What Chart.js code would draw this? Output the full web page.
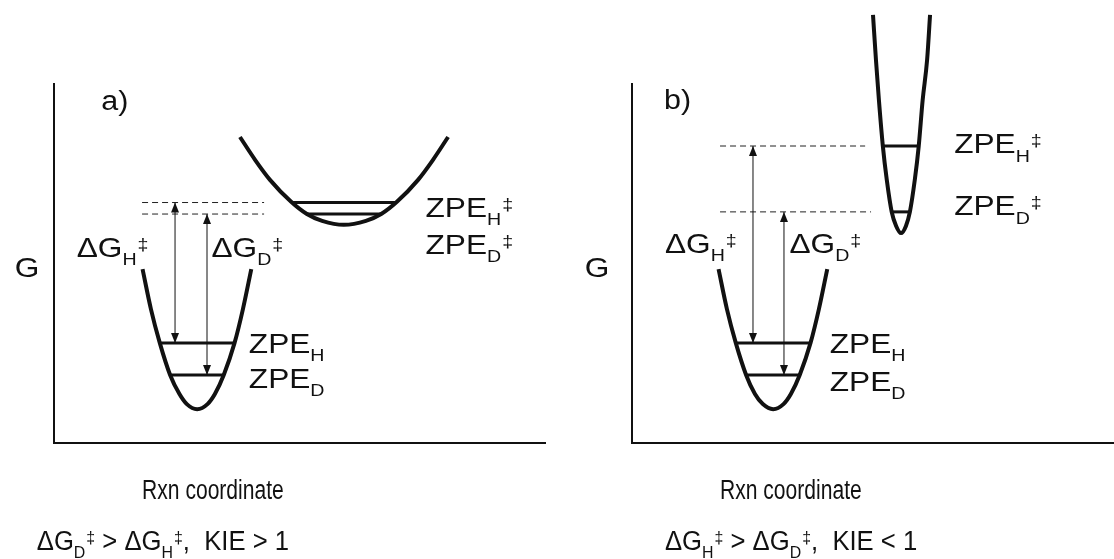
<!DOCTYPE html>
<html>
<head>
<meta charset="utf-8">
<script src="https://cdn.jsdelivr.net/npm/chart.js@4.4.1/dist/chart.umd.min.js"></script>
<style>
  html, body { margin: 0; padding: 0; background: #fff; }
  #wrap { display: flex; width: 1114px; height: 559px; }
  .painel { position: relative; width: 557px; height: 559px; }
</style>
</head>
<body>
<div id="wrap">
  <div class="painel"><canvas id="grafico_a"></canvas></div>
  <div class="painel"><canvas id="grafico_b"></canvas></div>
</div>
<script>
// --- Data (x = reaction coordinate, G = free energy, arbitrary units) ---

// Panel a) reactant well and a broad transition-state well
const pocoA_x = [18.0, 19.7, 21.5, 23.6, 25.5, 27.0, 29.1, 31.2, 32.7, 34.5, 36.7, 38.4, 40.1];
const pocoA_g = [48.3, 37.2, 27.8, 18.9, 13.6, 10.8, 9.4, 10.8, 13.6, 18.9, 27.8, 37.2, 48.3];
const tsA_x = [37.8, 40.9, 43.9, 48.2, 51.4, 54.5, 58.9, 63.4, 66.5, 69.7, 74.0, 77.0, 80.1];
const tsA_g = [85.0, 78.6, 73.1, 67.0, 63.6, 61.7, 60.6, 61.7, 63.6, 67.0, 73.1, 78.6, 85.0];

// zero-point levels [H, D]
const zpeA_g = [27.8, 18.9];
const zpeA_de = [21.5, 23.6];
const zpeA_ate = [36.7, 34.5];
const zpeTsA_g = [66.8, 63.6];
const zpeTsA_de = [48.2, 51.4];
const zpeTsA_ate = [69.7, 66.5];
const setasA_x = [24.6, 31.1];

// Panel b) same reactant well, narrow transition-state well
const pocoB_x = [17.6, 19.3, 21.1, 23.2, 25.0, 26.6, 28.7, 30.8, 32.3, 34.1, 36.3, 38.0, 39.7];
const pocoB_g = [48.3, 37.2, 27.8, 18.9, 13.6, 10.8, 9.4, 10.8, 13.6, 18.9, 27.8, 37.2, 48.3];
const tsB_x = [49.0, 49.6, 50.2, 51.0, 51.8, 52.8, 53.7, 54.7, 55.7, 56.5, 57.5, 58.3, 59.1, 60.0, 60.6];
const tsB_g = [118.9, 106.4, 95.3, 82.5, 73.1, 64.2, 60.3, 58.3, 60.3, 64.2, 73.1, 82.5, 95.3, 106.4, 118.9];

const zpeB_g = [27.8, 18.9];
const zpeB_de = [21.1, 23.2];
const zpeB_ate = [36.3, 34.1];
const zpeTsB_g = [82.5, 64.2];
const zpeTsB_de = [51.0, 52.8];
const zpeTsB_ate = [58.3, 56.5];
const setasB_x = [24.6, 30.9];

const ISOTOPOS = ['H', 'D'];

const FONTE = '"Liberation Sans", Arial, sans-serif';

// --- Helpers ---
function pontos(xs, gs) {
  return xs.map((x, i) => ({ x: x, y: gs[i] }));
}

function curva(xs, gs) {
  return { data: pontos(xs, gs), borderColor: '#111', borderWidth: 4, cubicInterpolationMode: 'monotone' };
}

function nivel(g, de, ate, largura) {
  return { data: [{ x: de, y: g }, { x: ate, y: g }], borderColor: '#111', borderWidth: largura };
}

function tracejado(g, de, ate) {
  return { data: [{ x: de, y: g }, { x: ate, y: g }], borderColor: '#222', borderWidth: 1, borderDash: [6, 4] };
}

function seta(x, gBase, gTopo) {
  return { data: [{ x: x, y: gBase }, { x: x, y: gTopo }], borderColor: '#111', borderWidth: 1, seta: true };
}

function montarDatasets(poco, ts, zpe, zpeTs, setasX, inicioTracejado, fimTracejado) {
  const ds = [curva(poco[0], poco[1]), curva(ts[0], ts[1])];
  ISOTOPOS.forEach((iso, i) => {
    ds.push(nivel(zpe[0][i], zpe[1][i], zpe[2][i], 3));
    ds.push(nivel(zpeTs[0][i], zpeTs[1][i], zpeTs[2][i], 3));
    ds.push(tracejado(zpeTs[0][i], inicioTracejado, fimTracejado[i]));
    ds.push(seta(setasX[i], zpe[0][i], zpeTs[0][i]));
  });
  return ds;
}

// text pieces: [texto, 'sub' | 'sup' | undefined]
const dG = iso => [['\u0394G'], [iso, 'sub'], ['\u2021', 'sup']];
const zpe = (iso, ts) => ts ? [['ZPE'], [iso, 'sub'], ['\u2021', 'sup']] : [['ZPE'], [iso, 'sub']];

// --- Plugin: axes, arrow heads and labels ---
const desenhoExtra = {
  id: 'desenhoExtra',
  afterDatasetsDraw(chart, args, opts) {
    const ctx = chart.ctx;
    const sx = chart.scales.x, sy = chart.scales.y;
    const px = v => sx.getPixelForValue(v);
    const py = v => sy.getPixelForValue(v);

    ctx.save();
    // axes
    ctx.strokeStyle = '#111';
    ctx.lineWidth = 2;
    ctx.beginPath();
    ctx.moveTo(px(0), py(opts.gFim));
    ctx.lineTo(px(0), py(0));
    ctx.lineTo(px(opts.xFim), py(0));
    ctx.stroke();

    // arrow heads on both ends
    ctx.fillStyle = '#111';
    chart.data.datasets.forEach(ds => {
      if (!ds.seta) return;
      const a = ds.data[0], b = ds.data[1];
      cabeca(ctx, px(a.x), py(a.y), 1);
      cabeca(ctx, px(b.x), py(b.y), -1);
    });

    // labels
    ctx.fillStyle = '#111';
    ctx.textBaseline = 'alphabetic';
    opts.rotulos.forEach(r => texto(ctx, px(r.x), py(r.g), r.partes, r.tam || 28, r.align, r.escalaX || 1.13));
    ctx.restore();
  }
};

function cabeca(ctx, x, y, dir) {
  // dir = 1 points down (tip at y), -1 points up
  const comp = 10, meia = 4;
  ctx.beginPath();
  ctx.moveTo(x, y);
  ctx.lineTo(x - meia, y - dir * comp);
  ctx.lineTo(x + meia, y - dir * comp);
  ctx.closePath();
  ctx.fill();
}

function texto(ctx, x, y, partes, tam, align, esc) {
  const pedacos = partes.map(([t, tipo]) => {
    const f = tipo ? tam * 0.62 : tam;
    ctx.font = f + 'px ' + FONTE;
    return { t, tipo, f, w: ctx.measureText(t).width * esc };
  });
  const total = pedacos.reduce((s, p) => s + p.w, 0);
  let cx = align === 'center' ? x - total / 2 : x;
  pedacos.forEach(p => {
    ctx.font = p.f + 'px ' + FONTE;
    let dy = 0;
    if (p.tipo === 'sub') dy = tam * 0.3;
    if (p.tipo === 'sup') dy = -tam * 0.26;
    ctx.save();
    ctx.translate(cx, y + dy);
    ctx.scale(esc, 1);
    ctx.fillText(p.t, 0, 0);
    ctx.restore();
    cx += p.w + (p.tipo === 'sub' ? 1 : 0);
  });
}

function criarGrafico(id, datasets, xMax, padEsq, padDir, extra) {
  return new Chart(document.getElementById(id), {
    type: 'line',
    data: { datasets: datasets },
    options: {
      responsive: true,
      maintainAspectRatio: false,
      animation: false,
      layout: { padding: { left: padEsq, right: padDir, top: 11, bottom: 116 } },
      elements: { point: { radius: 0 }, line: { fill: false, borderCapStyle: 'butt' } },
      scales: {
        x: { type: 'linear', min: 0, max: xMax, display: false },
        y: { type: 'linear', min: 0, max: 120, display: false }
      },
      plugins: {
        legend: { display: false },
        tooltip: { enabled: false },
        desenhoExtra: extra
      }
    },
    plugins: [desenhoExtra]
  });
}

// --- Panel a ---
criarGrafico('grafico_a',
  montarDatasets([pocoA_x, pocoA_g], [tsA_x, tsA_g],
    [zpeA_g, zpeA_de, zpeA_ate], [zpeTsA_g, zpeTsA_de, zpeTsA_ate],
    setasA_x, 17.9, [42.7, 42.7]),
  100, 54, 11,
  {
    xFim: 100, gFim: 100,
    rotulos: [
      { x: 9.6, g: 92.6, partes: [['a)']], tam: 27 },
      { x: -5.5, g: 46.1, partes: [['G']], align: 'center' },
      { x: 4.6, g: 51.7, partes: dG('H') },
      { x: 32.0, g: 51.7, partes: dG('D') },
      { x: 39.6, g: 25.0, partes: zpe('H') },
      { x: 39.6, g: 15.3, partes: zpe('D') },
      { x: 75.5, g: 62.8, partes: zpe('H', true) },
      { x: 75.5, g: 52.5, partes: zpe('D', true) },
      { x: 32.3, g: -15.5, partes: [['Rxn coordinate']], align: 'center', tam: 27, escalaX: 0.78 },
      { x: -3.5, g: -29.6, partes: [['\u0394G'], ['D', 'sub'], ['\u2021', 'sup'], [' > \u0394G'], ['H', 'sub'], ['\u2021', 'sup'], [',  KIE > 1']], tam: 27, escalaX: 0.95 }
    ]
  });

// --- Panel b ---
criarGrafico('grafico_b',
  montarDatasets([pocoB_x, pocoB_g], [tsB_x, tsB_g],
    [zpeB_g, zpeB_de, zpeB_ate], [zpeTsB_g, zpeTsB_de, zpeTsB_ate],
    setasB_x, 17.9, [47.4, 48.6]),
  98, 75, 0,
  {
    xFim: 98, gFim: 100,
    rotulos: [
      { x: 6.5, g: 92.8, partes: [['b)']], tam: 27 },
      { x: -7.1, g: 46.1, partes: [['G']], align: 'center' },
      { x: 6.7, g: 52.8, partes: dG('H') },
      { x: 32.0, g: 52.8, partes: dG('D') },
      { x: 40.2, g: 25.0, partes: zpe('H') },
      { x: 40.2, g: 14.5, partes: zpe('D') },
      { x: 65.5, g: 80.5, partes: zpe('H', true) },
      { x: 65.5, g: 63.2, partes: zpe('D', true) },
      { x: 32.3, g: -15.5, partes: [['Rxn coordinate']], align: 'center', tam: 27, escalaX: 0.78 },
      { x: 6.7, g: -29.6, partes: [['\u0394G'], ['H', 'sub'], ['\u2021', 'sup'], [' > \u0394G'], ['D', 'sub'], ['\u2021', 'sup'], [',  KIE < 1']], tam: 27, escalaX: 0.95 }
    ]
  });
</script>
</body>
</html>
